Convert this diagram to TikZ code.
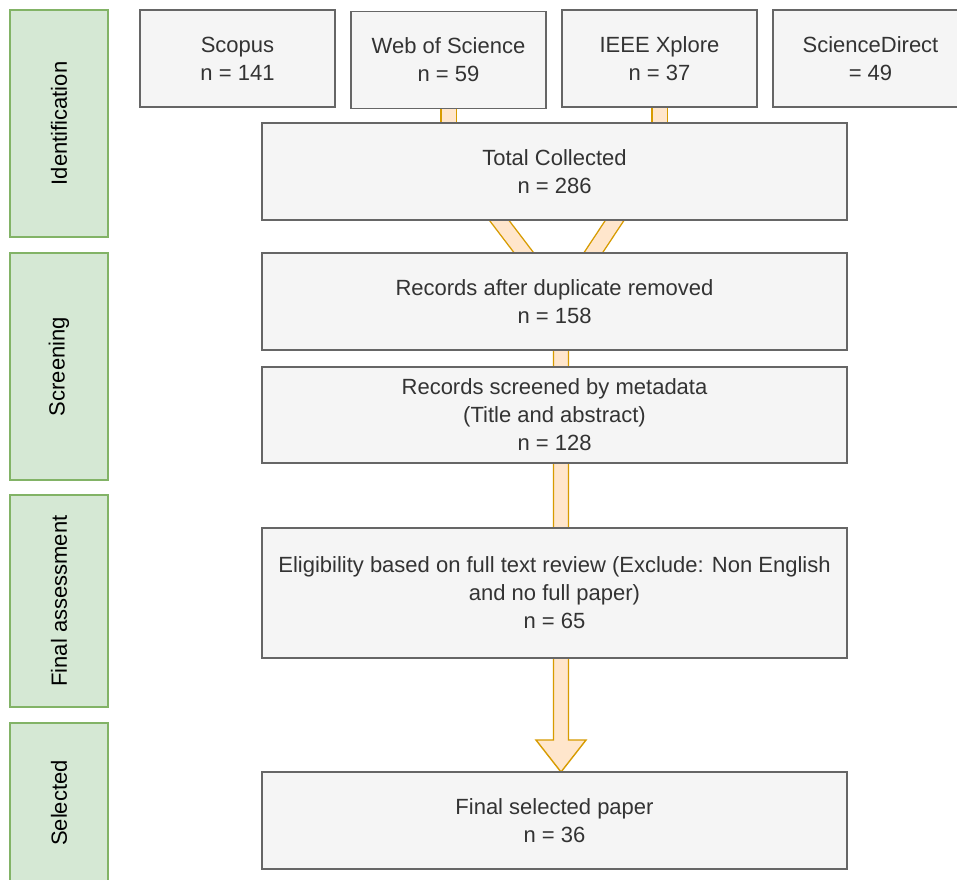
\documentclass[tikz,border=0pt]{standalone}
\usepackage{fontspec}
\setmainfont{Liberation Sans}
\usepackage{tikz}
\usetikzlibrary{positioning, calc}
\definecolor{boxfill}{HTML}{F5F5F5}
\definecolor{boxline}{HTML}{666666}
\definecolor{boxtext}{HTML}{333333}
\definecolor{phasefill}{HTML}{D5E8D4}
\definecolor{phaseline}{HTML}{82B366}
\definecolor{flowfill}{HTML}{FFE6CC}
\definecolor{flowline}{HTML}{D79B00}
\pgfdeclarelayer{background}
\pgfsetlayers{background,main}
\tikzstyle{src} = [rectangle, draw=boxline, fill=boxfill, line width=1.3pt, text=boxtext, align=center, minimum width=195pt, minimum height=97pt, inner sep=0pt, outer sep=0pt]
\tikzstyle{stage} = [src, minimum width=585pt]
\tikzstyle{phase} = [rectangle, draw=phaseline, fill=phasefill, line width=1.3pt, minimum width=98pt, minimum height=227pt, inner sep=0pt, outer sep=0pt]
\tikzstyle{flow} = [draw=flowline, line width=1.4pt, double=flowfill, double distance=14pt]
\tikzstyle{flowhead} = [draw=flowline, fill=flowfill, line width=1.4pt, line join=miter]

\begin{document}
\begin{tikzpicture}[x=1pt, y=-1pt, font=\fontsize{22pt}{28pt}\selectfont]
\useasboundingbox (0,0) rectangle (957,879);

\node(P1)[phase] at (59,123.5) {\rotatebox{90}{Identification}};
\node(P2)[phase, below = 16pt of P1] {\rotatebox{90}{Screening}};
\node(P3)[phase, below = 15pt of P2, minimum height=212pt] {\rotatebox{90}{Final assessment}};
\node(P4)[phase, below = 16pt of P3, minimum height=160pt] {\rotatebox{90}{Selected}};

\node(S1)[src] at (237.5,58.5) {Scopus\\n = 141};
\node(S2)[src, right = 16pt of S1, yshift=-1.5pt] {Web of Science\\n = 59};
\node(S3)[src, right = 16pt of S2, yshift=1.5pt] {IEEE Xplore\\n = 37};
\node(S4)[src, right = 16pt of S3] {ScienceDirect\\= 49};

\node(total)[stage] at (554.5,171.5) {Total Collected\\n = 286};
\node(dup)[stage, below = 33pt of total] {Records after duplicate removed\\n = 158};
\node(screen)[stage, below = 17pt of dup, minimum height=96pt] {Records screened by metadata\\(Title and abstract)\\n = 128};
\node(elig)[stage, below = 65pt of screen, minimum height=130pt] {Eligibility based on full text review (Exclude: Non English\\and no full paper)\\n = 65};
\node(final)[stage, below = 114pt of elig] {Final selected paper\\n = 36};

\coordinate (hub) at ([xshift=6.5pt]dup.center);
\coordinate (tip) at (hub |- final.north);
\coordinate (L) at ([xshift=-92.5pt]total.center);
\coordinate (R) at ([xshift=92.5pt]total.center);

\begin{pgfonlayer}{background}
\fill[white] (0,0) rectangle (957,879);
\draw[flow] (S2) -- (S2 |- total);
\draw[flow] (S3) -- (S3 |- total);
\draw[flow] (L) -- (hub) -- (R);
\draw[flowhead] ([xshift=-7.5pt]hub) -- ([xshift=-7.5pt, yshift=32pt]tip) -- ([xshift=-25pt, yshift=32pt]tip) -- (tip) -- ([xshift=25pt, yshift=32pt]tip) -- ([xshift=7.5pt, yshift=32pt]tip) -- ([xshift=7.5pt]hub) -- cycle;
\end{pgfonlayer}

\end{tikzpicture}
\end{document}
